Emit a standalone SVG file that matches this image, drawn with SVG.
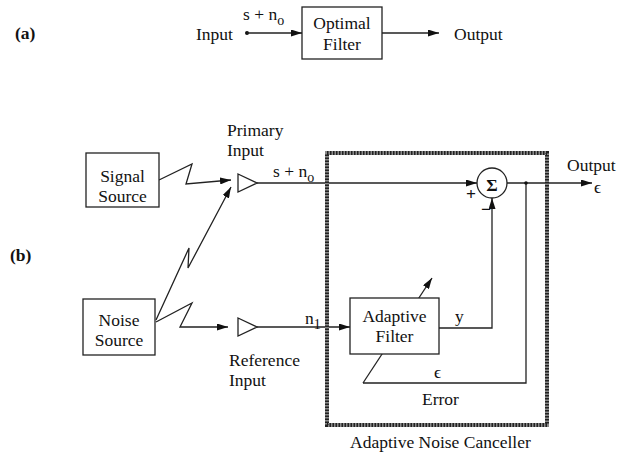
<svg xmlns="http://www.w3.org/2000/svg" width="617" height="456" viewBox="0 0 617 456">
<style>
text{font-family:"Liberation Serif","Times New Roman",serif;font-size:17.5px;fill:#111}
.b{font-weight:bold}
.box{fill:#fff;stroke:#222;stroke-width:1.3}
.ln{fill:none;stroke:#222;stroke-width:1.3}
.arr{marker-end:url(#ah)}
.mid{text-anchor:middle}
</style>
<defs>
<marker id="ah" viewBox="0 0 11 7" refX="11" refY="3.5" markerWidth="11" markerHeight="7" markerUnits="userSpaceOnUse" orient="auto">
<path d="M0,0 L11,3.5 L0,7 z" fill="#111"/>
</marker>
</defs>
<rect width="617" height="456" fill="#fff"/>

<!-- Part (a) -->
<text class="b" x="15" y="39">(a)</text>
<text x="196" y="40">Input</text>
<text x="243" y="20">s + n<tspan font-size="14" dy="5">o</tspan></text>
<text x="454" y="40">Output</text>
<g id="optimal-filter">
<rect class="box" x="302" y="7" width="80" height="52"/>
<text class="mid" x="342" y="29">Optimal</text>
<text class="mid" x="342" y="50">Filter</text>
</g>

<!-- Part (b) -->
<text class="b" x="10" y="261">(b)</text>

<g id="connectors">
<circle cx="247" cy="33" r="2" fill="#111"/>
<line class="ln arr" x1="247" y1="33" x2="302" y2="33"/>
<line class="ln arr" x1="382" y1="33" x2="439" y2="33"/>
<polyline class="ln arr" points="159,180 192,164 186,184 231,180"/>
<polyline class="ln arr" points="156,320 189,248 188,268 231,187"/>
<polyline class="ln arr" points="156,322 192,303 180,327 228,327"/>
<line class="ln arr" x1="257" y1="183" x2="477" y2="183"/>
<line class="ln arr" x1="257" y1="327" x2="350" y2="327"/>
<polyline class="ln arr" points="439,328 492,328 492,198"/>
<line class="ln arr" x1="507" y1="183" x2="592" y2="183"/>
<polyline class="ln" points="526,183 526,383 363,383"/>
<line class="ln arr" x1="363" y1="383" x2="432" y2="278"/>
<circle cx="526" cy="183" r="1.8" fill="#111"/>
</g>

<g id="signal-source">
<rect class="box" x="86" y="153" width="73" height="54"/>
<text class="mid" x="122.5" y="182">Signal</text>
<text class="mid" x="122.5" y="202">Source</text>
</g>

<g id="noise-source">
<rect class="box" x="83" y="299" width="72" height="56"/>
<text class="mid" x="119" y="326">Noise</text>
<text class="mid" x="119" y="346">Source</text>
</g>

<g id="primary-input">
<polygon class="box" points="238,174 257,183 238,192"/>
<text x="227" y="136">Primary</text>
<text x="227" y="156">Input</text>
<text x="273" y="177">s + n<tspan font-size="14" dy="5">o</tspan></text>
</g>

<g id="reference-input">
<polygon class="box" points="238,318 257,327 238,336"/>
<text x="229" y="366">Reference</text>
<text x="229" y="386">Input</text>
<text x="305" y="324">n<tspan font-size="14" dy="5">1</tspan></text>
</g>

<g id="adaptive-filter">
<rect class="box" x="350" y="298" width="89" height="56"/>
<text class="mid" x="394.5" y="322">Adaptive</text>
<text class="mid" x="394.5" y="342">Filter</text>
<text x="455" y="322">y</text>
</g>

<g id="summer">
<circle class="box" cx="492" cy="183" r="15"/>
<text class="mid b" x="492" y="190.5" font-size="21">Σ</text>
<text class="b" x="466" y="200" font-size="14">+</text>
<text class="b" x="481" y="215" font-size="14">−</text>
</g>

<g id="output">
<text x="567" y="171">Output</text>
<text x="594" y="193">ϵ</text>
</g>

<g id="error">
<text x="434" y="378">ϵ</text>
<text x="422" y="405">Error</text>
</g>

<g id="adaptive-noise-canceller">
<rect x="327" y="153" width="220" height="272" fill="none" stroke="#8a8a8a" stroke-width="4"/>
<rect x="327" y="153" width="220" height="272" fill="none" stroke="#222" stroke-width="4" stroke-dasharray="1.5 1.5"/>
<text x="350" y="448">Adaptive Noise Canceller</text>
</g>
</svg>
